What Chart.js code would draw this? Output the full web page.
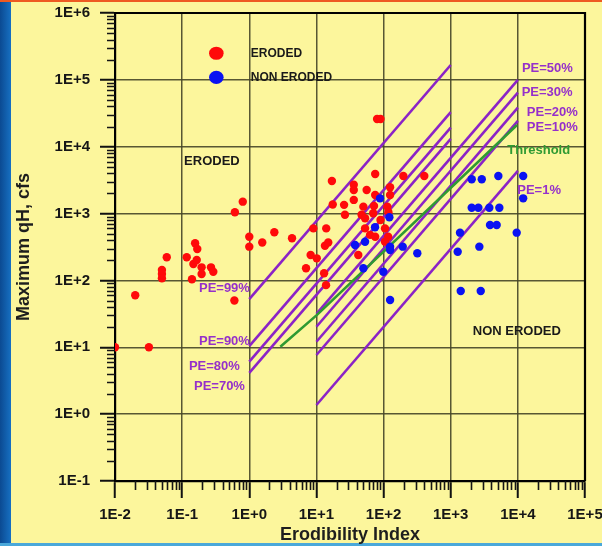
<!DOCTYPE html>
<html>
<head>
<meta charset="utf-8">
<title>Erodibility Index vs Maximum qH</title>
<script src="https://cdn.jsdelivr.net/npm/chart.js@4/dist/chart.umd.min.js"></script>
<style>
  html, body { margin: 0; padding: 0; background: #FCF69C; }
  #frame { position: relative; width: 602px; height: 546px; overflow: hidden; background: #FCF69C; }
  #band { position: absolute; left: 0; top: 0; bottom: 0; width: 11px; background: linear-gradient(to right, #0B4A92, #1770C2); }
  #topline { position: absolute; left: 0; right: 0; top: 0; height: 2px; background: #EE5A22; }
  #botline { position: absolute; left: 0; right: 0; bottom: 0; height: 3px; background: #4AA8DA; }
  #chart { position: absolute; left: 0; top: 0; }
</style>
</head>
<body>
<div id="frame">
  <div id="band"></div>
  <div id="topline"></div>
  <div id="botline"></div>
  <canvas id="chart" width="602" height="546"></canvas>
</div>
<script>
// Decade tick values for both log axes
const xDecades = [1e-2, 1e-1, 1e0, 1e1, 1e2, 1e3, 1e4, 1e5];
const yDecades = [1e-1, 1e0, 1e1, 1e2, 1e3, 1e4, 1e5, 1e6];

// Field observations: [erodibility index, maximum qH (cfs)]
const erodedPoints = [
  [0.01, 10], [0.032, 10], [0.02, 60],
  [0.05, 108], [0.05, 125], [0.05, 143], [0.059, 222],
  [0.117, 222], [0.14, 104], [0.147, 176], [0.156, 360], [0.168, 295], [0.165, 202],
  [0.195, 157], [0.195, 125], [0.269, 157], [0.291, 135],
  [0.6, 50], [0.61, 1045], [0.8, 1507],
  [1, 451], [1, 320], [1.56, 370], [2.36, 525], [4.33, 427],
  [7, 152], [8.2, 240], [9, 600], [10.1, 214], [13, 128], [13.9, 85], [14, 600], [13.4, 330], [15, 370],
  [17, 3070], [17.5, 1370], [25.8, 1350], [26.6, 960],
  [36, 2700], [36, 2250], [36, 1600], [56, 2250], [75, 3900], [75, 1900], [72, 1300],
  [50, 1270], [47, 960], [70, 1010],
  [80, 26000], [90, 26000],
  [114, 1270], [118, 1050], [125, 2470], [125, 1900], [197, 3650], [404, 3650],
  [53, 850], [90, 800], [53, 600], [105, 600], [63, 480], [75, 450], [117, 450], [105, 380], [42, 240]
];
const nonErodedPoints = [
  [37.6, 339], [53, 379], [74.6, 624], [88.5, 1690], [122, 880], [125, 320], [125, 285],
  [193, 320], [318, 255], [50, 152], [99, 135], [125, 51],
  [2055, 3260], [2900, 3260], [5120, 3650], [12000, 3650], [12000, 1690],
  [2055, 1225], [2580, 1225], [3760, 1225], [5300, 1225],
  [3850, 675], [4840, 675], [1375, 518], [9610, 518], [1270, 269], [2670, 320],
  [1410, 69.5], [2800, 69.5]
];

// Probability-of-erosion lines: [start, end] in [index, qH]
const pe99 = [[1, 52.7], [1000, 166700]];
const pe90 = [[1, 10.4], [1000, 33000]];
const pe80 = [[1, 6.1], [1000, 19300]];
const pe70 = [[1, 4.13], [1000, 13100]];
const pe50 = [[10, 31.5], [10000, 100000]];
const pe30 = [[10, 20.3], [10000, 64300]];
const pe20 = [[10, 12.1], [10000, 38400]];
const pe10 = [[10, 7.67], [10000, 24300]];
const pe1  = [[10, 1.37], [10000, 4340]];
const threshold = [[2.9, 10.2], [10, 30], [9700, 21100]];

// Text labels anchored in data space: [text, index, qH]
const peLabels = [
  ['PE=50%', 11500, 147000], ['PE=30%', 11400, 64000], ['PE=20%', 13600, 33000],
  ['PE=10%', 13600, 19700], ['PE=1%', 9800, 2200],
  ['PE=99%', 0.178, 76], ['PE=90%', 0.178, 12.3], ['PE=80%', 0.126, 5.13], ['PE=70%', 0.150, 2.61]
];
const zoneLabels = [['ERODED', 0.107, 6100], ['NON ERODED', 2130, 17.1]];
const thresholdLabel = ['Threshold', 6970, 8730];
const legendItems = [['ERODED', 0.323, 250000], ['NON ERODED', 0.323, 109000]];

const PURPLE = '#8B23C6';
const PURPLE_TEXT = '#9530CA';
const GREEN = '#2F9A32';
const RED = '#FF0A0A';
const BLUE = '#0A12F2';
const FONT = "'Liberation Sans', Arial, sans-serif";

const toXY = arr => arr.map(([x, y]) => ({ x, y }));
const lineSet = (data, color) => ({
  type: 'line', data: toXY(data), borderColor: color, borderWidth: 2.6,
  pointRadius: 0, fill: false, tension: 0, order: 5
});

const expLabel = v => {
  const e = Math.round(Math.log10(v));
  return '1E' + (e < 0 ? '-' : '+') + Math.abs(e);
};

const overlay = {
  id: 'overlay',
  afterDraw(chart) {
    const { ctx, chartArea: a, scales: { x, y } } = chart;
    ctx.save();
    // minor ticks
    ctx.strokeStyle = '#151515';
    ctx.lineWidth = 1.6;
    ctx.beginPath();
    for (let e = -2; e < 5; e++) {
      for (let m = 2; m <= 9; m++) {
        const px = Math.round(x.getPixelForValue(m * Math.pow(10, e))) + 0.5;
        ctx.moveTo(px, a.bottom); ctx.lineTo(px, a.bottom + 9);
      }
    }
    for (let e = -1; e < 6; e++) {
      for (let m = 2; m <= 9; m++) {
        const py = Math.round(y.getPixelForValue(m * Math.pow(10, e))) + 0.5;
        ctx.moveTo(a.left - 8, py); ctx.lineTo(a.left, py);
      }
    }
    ctx.stroke();
    // top and right frame
    ctx.strokeStyle = '#000';
    ctx.lineWidth = 2.2;
    ctx.beginPath();
    ctx.moveTo(a.left, a.top); ctx.lineTo(a.right, a.top); ctx.lineTo(a.right, a.bottom);
    ctx.stroke();

    // labels
    ctx.textAlign = 'left';
    ctx.textBaseline = 'middle';
    ctx.font = 'bold 13px ' + FONT;
    ctx.fillStyle = PURPLE_TEXT;
    peLabels.forEach(([t, vx, vy]) => ctx.fillText(t, x.getPixelForValue(vx), y.getPixelForValue(vy)));
    ctx.fillStyle = GREEN;
    ctx.fillText(thresholdLabel[0], x.getPixelForValue(thresholdLabel[1]), y.getPixelForValue(thresholdLabel[2]));
    ctx.fillStyle = '#1a1a1a';
    zoneLabels.forEach(([t, vx, vy]) => ctx.fillText(t, x.getPixelForValue(vx), y.getPixelForValue(vy)));

    // legend
    ctx.font = 'bold 12px ' + FONT;
    legendItems.forEach(([t, vx, vy], i) => {
      const px = x.getPixelForValue(vx), py = y.getPixelForValue(vy);
      ctx.fillStyle = i === 0 ? RED : BLUE;
      ctx.beginPath(); ctx.ellipse(px, py, 7.3, 6.6, 0, 0, Math.PI * 2); ctx.fill();
      ctx.fillStyle = '#1a1a1a';
      ctx.fillText(t, px + 34.5, py);
    });
    ctx.restore();
  }
};

const axisCommon = (decades, titleText, isX) => ({
  type: 'logarithmic',
  min: decades[0],
  max: decades[decades.length - 1],
  afterBuildTicks: s => { s.ticks = decades.map(v => ({ value: v })); },
  afterFit: s => {
    if (isX) s.height = 65; else s.width = 115;
    // edge labels may overhang the frame; keep the plot area fixed
    s.paddingLeft = 0; s.paddingRight = 0; s.paddingTop = 0; s.paddingBottom = 0;
  },
  grid: {
    color: 'rgba(70,70,40,0.9)', lineWidth: 1.5,
    drawTicks: true, tickLength: isX ? 17 : 15, tickColor: '#111', tickWidth: 2
  },
  border: { display: true, color: '#000', width: 2.2 },
  ticks: {
    callback: v => expLabel(v),
    autoSkip: false, maxRotation: 0, minRotation: 0,
    padding: isX ? 8 : 10, color: '#161616',
    font: { family: FONT, size: 15, weight: 'bold' }
  },
  title: {
    display: true, text: titleText, color: '#1e1e1e',
    font: { family: FONT, size: 18, weight: 'bold' },
    padding: isX ? { top: 0, bottom: 0 } : { top: 13, bottom: 0 }
  }
});

new Chart(document.getElementById('chart'), {
  type: 'scatter',
  data: {
    datasets: [
      { label: 'NON ERODED', data: toXY(nonErodedPoints), backgroundColor: BLUE, borderWidth: 0, pointRadius: 4.2, order: 1 },
      { label: 'ERODED', data: toXY(erodedPoints), backgroundColor: RED, borderWidth: 0, pointRadius: 4.2, order: 2 },
      Object.assign(lineSet(threshold, GREEN), { order: 4 }),
      lineSet(pe99, PURPLE), lineSet(pe90, PURPLE), lineSet(pe80, PURPLE), lineSet(pe70, PURPLE),
      lineSet(pe50, PURPLE), lineSet(pe30, PURPLE), lineSet(pe20, PURPLE), lineSet(pe10, PURPLE),
      lineSet(pe1, PURPLE)
    ]
  },
  options: {
    responsive: false,
    animation: false,
    devicePixelRatio: 1,
    layout: { padding: { top: 13, right: 17, left: 0, bottom: 0 } },
    plugins: { legend: { display: false }, tooltip: { enabled: false } },
    scales: {
      x: axisCommon(xDecades, 'Erodibility Index', true),
      y: axisCommon(yDecades, 'Maximum qH, cfs', false)
    }
  },
  plugins: [overlay]
});
</script>
</body>
</html>
